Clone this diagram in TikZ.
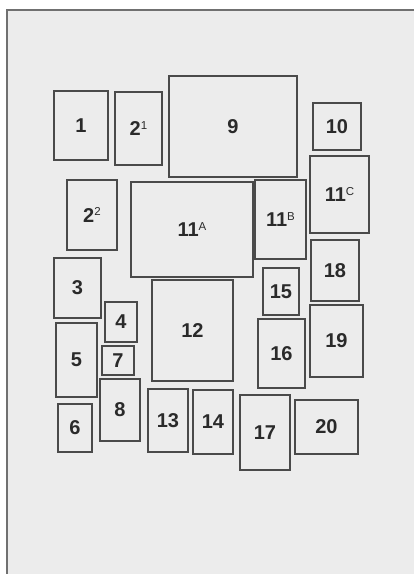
\documentclass[tikz,border=0pt]{standalone}
\usepackage{fontspec}
\setmainfont{Liberation Sans}
\definecolor{paper}{HTML}{ECECEC}
\definecolor{ink}{HTML}{4A4A4A}
\definecolor{txt}{HTML}{2A2A2A}
\definecolor{frame}{HTML}{707070}
\begin{document}
\begin{tikzpicture}[x=1pt,y=-1pt,
  box/.style 2 args={draw=ink, line width=1.4pt, rectangle, inner sep=0pt,
    minimum width=#1pt, minimum height=#2pt, text=txt,
    font=\fontsize{20}{22}\selectfont\bfseries}]
\useasboundingbox (0,0) rectangle (414,574);
\fill[white] (0,0) rectangle (414,574);
\fill[paper] (7,10) rectangle (414,574);
\draw[frame, line width=1.5pt] (414,10) -- (7,10) -- (7,574);
\newcommand{\supr}[1]{\raisebox{6.5pt}{\fontsize{11.5}{12}\selectfont\mdseries #1}}
\node[box={54}{69}]  (b1)   at (81,125.5)   {1};
\node[box={47}{73}]  (b21)  at (138.5,128.5) {2\supr{1}};
\node[box={128}{101}] (b9)  at (233,126.5)  {9};
\node[box={48}{47}]  (b10)  at (337,126.5)  {10};
\node[box={59}{77}]  (b11c) at (339.5,194.5) {11\supr{C}};
\node[box={50}{70}]  (b22)  at (92,215)     {2\supr{2}};
\node[box={122}{95}] (b11a) at (192,229.5)  {11\supr{A}};
\node[box={51}{79}]  (b11b) at (280.5,219.5) {11\supr{B}};
\node[box={48}{61}]  (b18)  at (335,270.5)  {18};
\node[box={47}{60}]  (b3)   at (77.5,288)   {3};
\node[box={36}{47}]  (b15)  at (281,291.5)  {15};
\node[box={81}{101}] (b12)  at (192.5,330.5) {12};
\node[box={32}{40}]  (b4)   at (121,322)    {4};
\node[box={41}{74}]  (b5)   at (76.5,360)   {5};
\node[box={32}{29}]  (b7)   at (118,360.5)  {7};
\node[box={40}{62}]  (b8)   at (120,410)    {8};
\node[box={34}{48}]  (b6)   at (75,428)     {6};
\node[box={40}{63}]  (b13)  at (168,420.5)  {13};
\node[box={40}{64}]  (b14)  at (213,422)    {14};
\node[box={50}{75}]  (b17)  at (265,432.5)  {17};
\node[box={63}{54}]  (b20)  at (326.5,427)  {20};
\node[box={47}{69}]  (b16)  at (281.5,353.5) {16};
\node[box={53}{72}]  (b19)  at (336.5,341)  {19};
\end{tikzpicture}
\end{document}
